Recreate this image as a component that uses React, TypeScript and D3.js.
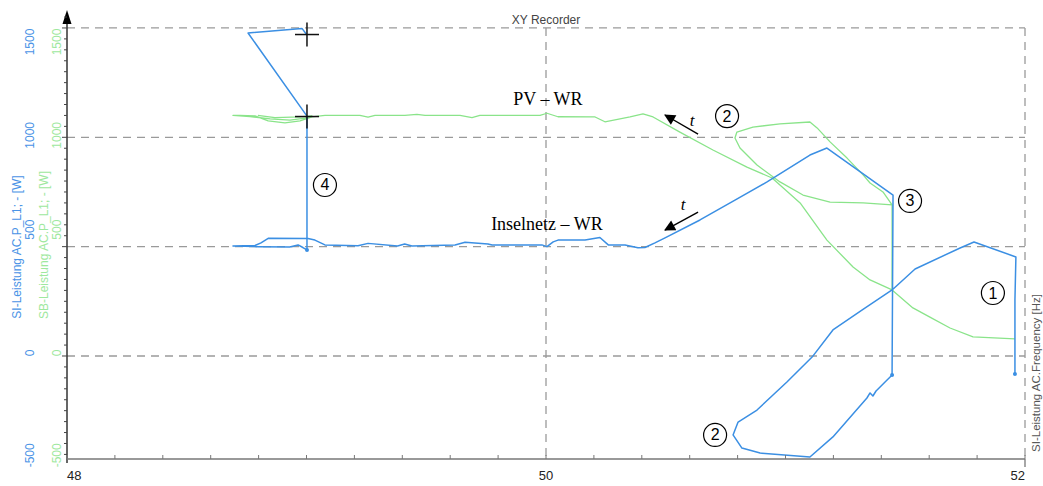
import React from 'react';
import * as d3 from 'd3';

// ---- data ----
const freqTicks = [48, 50, 52];
const powerTicks = [-500, 0, 500, 1000, 1500];
const gridPower = [0, 500, 1000, 1500];
const gridFreq = [50, 52];

// SI-Leistung AC.P_L1 (blue) vs frequency [Hz, W]
const siCurve: [number, number][] = [
  [51.958, -82], [51.958, 256], [51.962, 453], [51.787, 521], [51.729, 494], [51.541, 398],
  [51.445, 302], [51.319, 210], [51.198, 119], [51.111, -5], [51.006, -119], [50.881, -247],
  [50.802, -302], [50.781, -361], [50.818, -421], [50.894, -444], [51.102, -462], [51.198, -370],
  [51.34, -192], [51.353, -169], [51.365, -183], [51.378, -160], [51.445, -87], [51.449, 736],
  [51.173, 951], [51.102, 919], [50.923, 796], [50.789, 713], [50.643, 622], [50.497, 540],
  [50.455, 517], [50.413, 496], [50.384, 495], [50.33, 508], [50.26, 508], [50.225, 542],
  [50.163, 530], [50.05, 530], [50.03, 522], [50.004, 500], [49.983, 508], [49.775, 508],
  [49.758, 512], [49.662, 520], [49.62, 508], [49.44, 503], [49.41, 512], [49.38, 503],
  [49.257, 515], [49.215, 504], [49.077, 508], [49.035, 530], [49.006, 537], [48.84, 538],
  [48.81, 517], [48.785, 505], [48.693, 503], [48.797, 500], [48.93, 498], [48.965, 508],
  [48.985, 496], [49.002, 485], [49.002, 1097], [48.756, 1477], [48.981, 1498], [49.002, 1468],
];

// SB-Leistung AC.P_L1 (green) vs frequency
const sbCurve: [number, number][] = [
  [51.958, 78], [51.783, 87], [51.687, 128], [51.603, 178], [51.532, 220], [51.445, 302],
  [51.445, 691], [51.407, 750], [51.353, 791], [51.324, 828], [51.257, 905], [51.186, 979],
  [51.132, 1043], [51.102, 1070], [50.977, 1061], [50.864, 1047], [50.797, 1024], [50.789, 997],
  [50.81, 951], [50.881, 873], [50.977, 796], [51.073, 736], [51.186, 704], [51.324, 700],
  [51.445, 691], [51.445, 302], [51.353, 348], [51.282, 407], [51.173, 530], [51.061, 700],
  [50.944, 814], [50.839, 864], [50.697, 942], [50.559, 1024], [50.447, 1093], [50.405, 1107],
  [50.351, 1093], [50.246, 1071], [50.205, 1093], [50.05, 1094], [50.004, 1110], [49.975, 1100],
  [49.724, 1100], [49.691, 1090], [49.641, 1100], [49.495, 1100], [49.461, 1105], [49.411, 1100],
  [49.286, 1100], [49.257, 1092], [49.223, 1100], [49.077, 1100], [49.023, 1093], [48.973, 1075],
  [48.91, 1066], [48.84, 1075], [48.785, 1098], [48.722, 1100], [48.693, 1100], [48.764, 1095],
  [48.848, 1084], [48.931, 1079], [48.994, 1088], [49.023, 1098], [48.973, 1093], [48.868, 1090],
  [48.797, 1100],
];

const siDots: [number, number][] = [[51.958, -82], [51.445, -87], [49.002, 485]];
const crossMarks: [number, number][] = [[49.002, 1470], [49.002, 1095]];

const circledLabels = [
  { text: '2', f: 50.756, p: 1097 },
  { text: '3', f: 51.52, p: 709 },
  { text: '4', f: 49.077, p: 782 },
  { text: '1', f: 51.866, p: 288 },
  { text: '2', f: 50.706, p: -361 },
];

const textLabels = [
  { text: 'PV – WR', f: 50.008, p: 1148 },
  { text: 'Inselnetz – WR', f: 50.004, p: 576 },
];

const timeArrows = [
  { from: [50.635, 1015], to: [50.497, 1102], label: [50.61, 1075] },
  { from: [50.635, 658], to: [50.497, 576], label: [50.572, 690] },
];

// ---- layout ----
const WIDTH = 1043;
const HEIGHT = 486;
const BLUE = '#3b8fe3';
const GREEN = '#8ae48a';
const BLUE_TXT = '#4a93e6';
const GREEN_TXT = '#9ee89e';
const yLabelNudge: Record<string, number> = { '1500': 14, '1000': -2, '500': -17, '0': -3, '-500': -10 };

export default function App() {
  const x = d3.scaleLinear().domain([48, 52]).range([67, 1025]);
  const y = d3.scaleLinear().domain([-471, 1573]).range([459, 12]);
  const line = d3.line<[number, number]>().x((d) => x(d[0])).y((d) => y(d[1]));

  const xMinor = d3.range(0, 21).map((i) => 48 + i * 0.2);
  const yMinor = d3.range(-450, 1551, 50);
  const sans = 'Liberation Sans, Arial, sans-serif';
  const serif = 'Liberation Serif, Times New Roman, serif';

  return (
    <svg width={WIDTH} height={HEIGHT} style={{ position: 'absolute', left: 0, top: 0, background: '#fff' }}>
      <defs>
        <marker id="ah" viewBox="0 0 10 10" refX="9" refY="5" markerWidth="15" markerHeight="11" orient="auto" markerUnits="userSpaceOnUse">
          <path d="M0,0 L10,5 L0,10 z" fill="#000" />
        </marker>
      </defs>
      {/* grid */}
      {gridPower.map((p) => (
        <line key={'gp' + p} x1={x(48)} x2={x(52)} y1={y(p)} y2={y(p)} stroke="#9a9a9a" strokeWidth={1.3} strokeDasharray="8,6" />
      ))}
      {gridFreq.map((f) => (
        <line key={'gf' + f} x1={x(f)} x2={x(f)} y1={y(1500)} y2={y(-471)} stroke="#9a9a9a" strokeWidth={1.3} strokeDasharray="8,6" />
      ))}
      {/* title */}
      <text x={x(50)} y={24} textAnchor="middle" fontFamily={sans} fontSize={12} fill="#444">XY Recorder</text>

      {/* curves */}
      <path d={line(sbCurve) || ''} fill="none" stroke={GREEN} strokeWidth={1.3} strokeLinejoin="round" />
      <path d={line(siCurve) || ''} fill="none" stroke={BLUE} strokeWidth={1.5} strokeLinejoin="round" />
      {siDots.map((d, i) => (
        <circle key={'dot' + i} cx={x(d[0])} cy={y(d[1])} r={2} fill={BLUE} />
      ))}
      {crossMarks.map((d, i) => (
        <g key={'cm' + i} stroke="#111" strokeWidth={1.5}>
          <line x1={x(d[0]) - 12} x2={x(d[0]) + 12} y1={y(d[1])} y2={y(d[1])} />
          <line x1={x(d[0])} x2={x(d[0])} y1={y(d[1]) - 12} y2={y(d[1]) + 12} />
        </g>
      ))}

      {/* annotations */}
      {textLabels.map((t, i) => (
        <text key={'tl' + i} x={x(t.f)} y={y(t.p)} textAnchor="middle" fontFamily={serif} fontSize={18} fill="#000">{t.text}</text>
      ))}
      {circledLabels.map((c, i) => (
        <g key={'cl' + i}>
          <circle cx={x(c.f)} cy={y(c.p)} r={11.5} fill="#fff" stroke="#000" strokeWidth={1.2} />
          <text x={x(c.f)} y={y(c.p) + 5.5} textAnchor="middle" fontFamily={sans} fontSize={16} fill="#000">{c.text}</text>
        </g>
      ))}
      {timeArrows.map((a, i) => (
        <g key={'ta' + i}>
          <line x1={x(a.from[0])} y1={y(a.from[1])} x2={x(a.to[0])} y2={y(a.to[1])} stroke="#000" strokeWidth={1.4} markerEnd="url(#ah)" />
          <text x={x(a.label[0])} y={y(a.label[1]) + 5} textAnchor="middle" fontFamily={serif} fontStyle="italic" fontSize={17} fill="#000">t</text>
        </g>
      ))}

      {/* left axis */}
      <line x1={67} x2={67} y1={14} y2={463} stroke="#333" strokeWidth={1.5} />
      <path d="M62.5,24 L67,10 L71.5,24 z" fill="#000" />
      {yMinor.map((p) => (
        <line key={'ym' + p} x1={p % 500 === 0 ? 62 : 64} x2={67} y1={y(p)} y2={y(p)} stroke="#444" strokeWidth={1} />
      ))}
      {powerTicks.map((p) => (
        <g key={'yl' + p}>
          <text transform={`translate(30,${y(p) + (yLabelNudge[String(p)] || 0)}) rotate(-90)`} textAnchor="middle" dominantBaseline="central" fontFamily={sans} fontSize={12} fill={BLUE_TXT}>{p}</text>
          <text transform={`translate(57,${y(p) + (yLabelNudge[String(p)] || 0)}) rotate(-90)`} textAnchor="middle" dominantBaseline="central" fontFamily={sans} fontSize={12} fill={GREEN_TXT}>{p}</text>
        </g>
      ))}
      <text transform={`translate(17,247) rotate(-90)`} textAnchor="middle" dominantBaseline="central" fontFamily={sans} fontSize={12} fill={BLUE_TXT}>SI-Leistung AC.P_L1; - [W]</text>
      <text transform={`translate(44,245) rotate(-90)`} textAnchor="middle" dominantBaseline="central" fontFamily={sans} fontSize={12} fill={GREEN_TXT}>SB-Leistung AC.P_L1; - [W]</text>

      {/* bottom axis */}
      <line x1={67} x2={1025} y1={459} y2={459} stroke="#777" strokeWidth={1.3} />
      {xMinor.map((f, i) => (
        <line key={'xm' + i} x1={x(f)} x2={x(f)} y1={459} y2={455} stroke="#777" strokeWidth={1} />
      ))}
      <line x1={1025} x2={1025} y1={459} y2={467} stroke="#777" strokeWidth={1.3} />
      {freqTicks.map((f, i) => (
        <text key={'xl' + f} x={x(f)} y={480} textAnchor={i === 0 ? 'start' : i === freqTicks.length - 1 ? 'end' : 'middle'} fontFamily={sans} fontSize={13} fill="#222">{f}</text>
      ))}
      <text transform={`translate(1035.5,373) rotate(-90)`} textAnchor="middle" dominantBaseline="central" fontFamily={sans} fontSize={11.5} fill="#555">SI-Leistung AC.Frequency [Hz]</text>
    </svg>
  );
}
